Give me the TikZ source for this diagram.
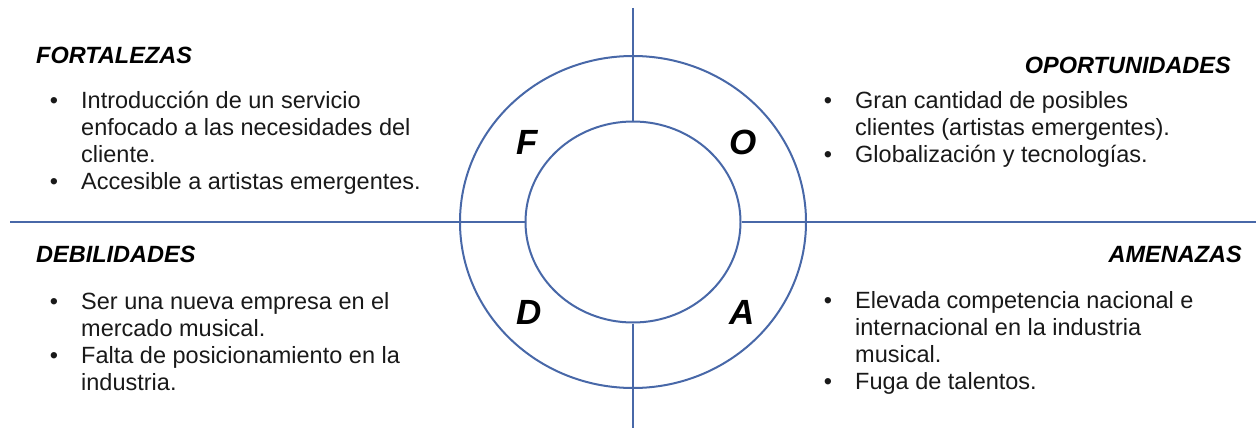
\documentclass[tikz,border=0pt]{standalone}
\usepackage{fontspec}
\setmainfont{Liberation Sans}
\usetikzlibrary{shapes.geometric}
\definecolor{swotline}{RGB}{72,104,168}
\newcommand{\bul}{\leavevmode\llap{\textbullet\hspace{23pt}}}

\begin{document}
\begin{tikzpicture}[
  x=1pt, y=-1pt,
  ring/.style={draw=swotline, line width=2pt, ellipse, inner sep=0pt},
  axis/.style={draw=swotline, line width=2pt},
  head/.style={font=\fontsize{23.5}{27}\selectfont\bfseries\itshape, inner sep=0pt},
  letter/.style={font=\fontsize{35}{40}\selectfont\bfseries\itshape, inner sep=0pt},
  items/.style={font=\fontsize{23.5}{26.8}\selectfont, align=left, inner sep=0pt, text=black!90}
]
\useasboundingbox (0,0) rectangle (1256,428);

\node[ring, minimum width=346pt, minimum height=332pt] (outer) at (633,222) {};
\node[ring, minimum width=215pt, minimum height=201pt] (inner) at (633,222) {};

\coordinate (top) at (633,8);
\coordinate (bot) at (633,428);
\coordinate (lft) at (10,222);
\coordinate (rgt) at (1256,222);
\draw[axis] (top) -- (inner.north);
\draw[axis] (inner.south) -- (bot);
\draw[axis] (lft) -- (inner.west);
\draw[axis] (inner.east) -- (rgt);

\node[letter] (F) at (527,142) {F};
\node[letter] (O) at (743,142) {O};
\node[letter] (D) at (529,312) {D};
\node[letter] (A) at (742,312) {A};

\node[head, anchor=base west] (fort) at (36,64) {FORTALEZAS};
\node[head, anchor=base east] (opor) at (1231,74) {OPORTUNIDADES};
\node[head, anchor=base west] (debi) at (36,262) {DEBILIDADES};
\node[head, anchor=base east] (amen) at (1242,262) {AMENAZAS};

\node[items, anchor=base west] (fortlist) at (81,189) {\bul Introducción de un servicio\\enfocado a las necesidades del\\cliente.\\\bul Accesible a artistas emergentes.};
\node[items, anchor=base west] (oporlist) at (855,162) {\bul Gran cantidad de posibles\\clientes (artistas emergentes).\\\bul Globalización y tecnologías.};
\node[items, anchor=base west] (debilist) at (81,390) {\bul Ser una nueva empresa en el\\mercado musical.\\\bul Falta de posicionamiento en la\\industria.};
\node[items, anchor=base west] (amenlist) at (855,389) {\bul Elevada competencia nacional e\\internacional en la industria\\musical.\\\bul Fuga de talentos.};
\end{tikzpicture}
\end{document}
